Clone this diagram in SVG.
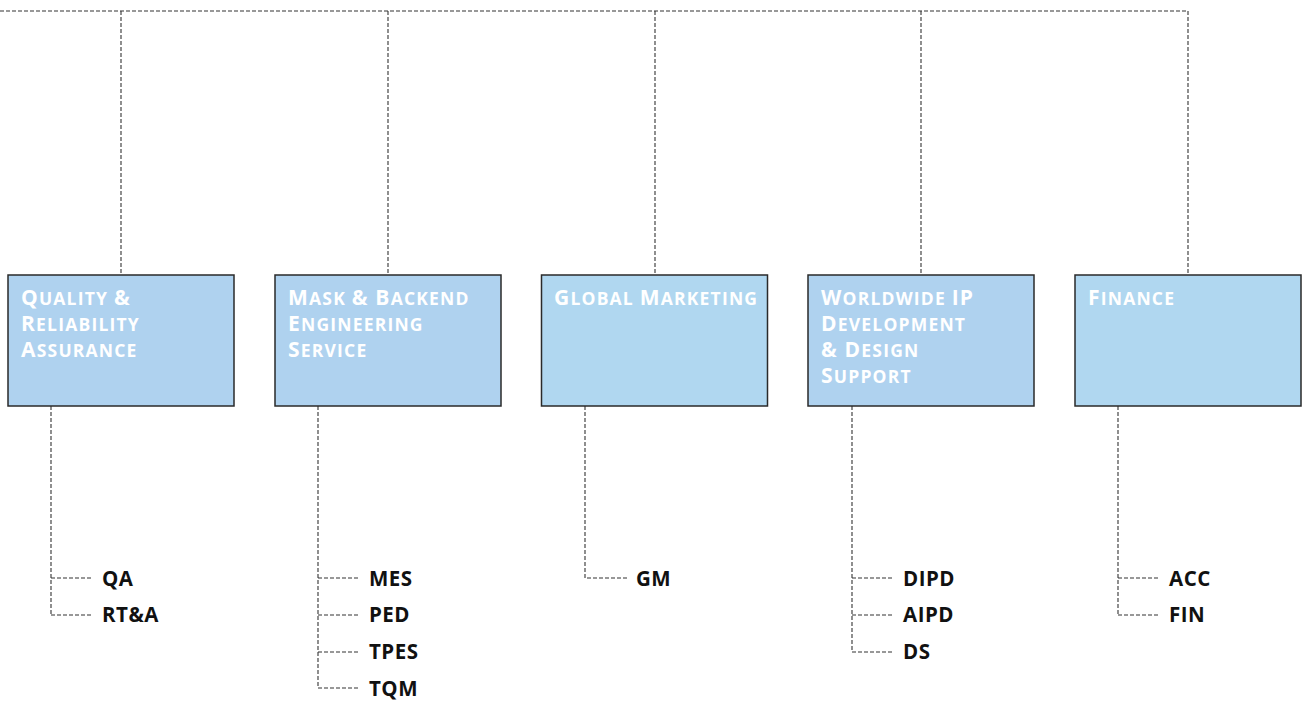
<svg xmlns="http://www.w3.org/2000/svg" width="1305" height="705" viewBox="0 0 1305 705">
<style>
.box{fill:#afd2ef;stroke:#2a2a2a;stroke-width:1.5}
.box2{fill:#b0d7f0;stroke:#2a2a2a;stroke-width:1.5}
.hd{font-family:"Open Sans","DejaVu Sans",sans-serif;font-weight:bold;font-size:17.5px;fill:#ffffff;letter-spacing:1.2px}
.c{font-size:21px}
.lf{font-family:"Open Sans","DejaVu Sans",sans-serif;font-weight:bold;font-size:20.5px;fill:#111111;letter-spacing:0.5px}
.cn{fill:none;stroke:#333333;stroke-width:1.1;stroke-dasharray:4,2}
</style>
<rect width="1305" height="705" fill="#ffffff"/>
<g id="connectors">
<path class="cn" d="M0,11 H1188"/>
<path class="cn" d="M121,11 V275 M388,11 V275 M655,11 V275 M921,11 V275 M1188,11 V275"/>
<path class="cn" d="M51,406 V615 M51,578 H93 M51,615 H93"/>
<path class="cn" d="M318,406 V688 M318,578 H360 M318,615 H360 M318,652 H360 M318,688 H360"/>
<path class="cn" d="M585,406 V578 H627"/>
<path class="cn" d="M852,406 V652 M852,578 H894 M852,615 H894 M852,652 H894"/>
<path class="cn" d="M1118,406 V615 M1118,578 H1160 M1118,615 H1160"/>
</g>
<g id="n1"><rect class="box" x="8" y="275" width="226" height="131"/>
<text class="hd" x="21" y="305"><tspan class="c">Q</tspan>UALITY <tspan class="c">&amp;</tspan></text>
<text class="hd" x="21" y="331"><tspan class="c">R</tspan>ELIABILITY</text>
<text class="hd" x="21" y="357"><tspan class="c">A</tspan>SSURANCE</text></g>
<g id="n2"><rect class="box" x="275" y="275" width="226" height="131"/>
<text class="hd" x="288" y="305"><tspan class="c">M</tspan>ASK <tspan class="c">&amp; B</tspan>ACKEND</text>
<text class="hd" x="288" y="331"><tspan class="c">E</tspan>NGINEERING</text>
<text class="hd" x="288" y="357"><tspan class="c">S</tspan>ERVICE</text></g>
<g id="n3"><rect class="box2" x="541.5" y="275" width="226" height="131"/>
<text class="hd" x="554" y="305"><tspan class="c">G</tspan>LOBAL <tspan class="c">M</tspan>ARKETING</text></g>
<g id="n4"><rect class="box" x="808" y="275" width="226" height="131"/>
<text class="hd" x="821" y="305"><tspan class="c">W</tspan>ORLDWIDE <tspan class="c">IP</tspan></text>
<text class="hd" x="821" y="331"><tspan class="c">D</tspan>EVELOPMENT</text>
<text class="hd" x="821" y="357"><tspan class="c">&amp; D</tspan>ESIGN</text>
<text class="hd" x="821" y="383"><tspan class="c">S</tspan>UPPORT</text></g>
<g id="n5"><rect class="box2" x="1075" y="275" width="226" height="131"/>
<text class="hd" x="1088" y="305"><tspan class="c">F</tspan>INANCE</text></g>
<g id="leaf1"><text class="lf" x="102" y="585.5">QA</text><text class="lf" x="102" y="622">RT&amp;A</text></g>
<g id="leaf2"><text class="lf" x="369" y="585.5">MES</text><text class="lf" x="369" y="622">PED</text><text class="lf" x="369" y="659">TPES</text><text class="lf" x="369" y="695.5">TQM</text></g>
<g id="leaf3"><text class="lf" x="636" y="585.5">GM</text></g>
<g id="leaf4"><text class="lf" x="903" y="585.5">DIPD</text><text class="lf" x="903" y="622">AIPD</text><text class="lf" x="903" y="659">DS</text></g>
<g id="leaf5"><text class="lf" x="1169" y="585.5">ACC</text><text class="lf" x="1169" y="622">FIN</text></g>
</svg>
